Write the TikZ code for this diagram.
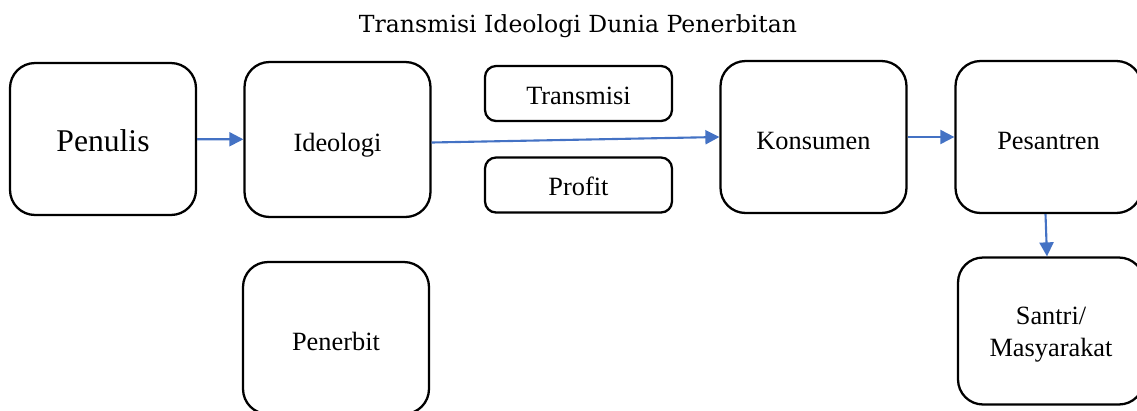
\documentclass[tikz,border=0pt]{standalone}
\usepackage{fontspec}
\setmainfont{Liberation Serif}
\newfontfamily\titlefont{DejaVu Serif}
\usetikzlibrary{arrows.meta}

\definecolor{arrowblue}{RGB}{68,114,196}

\tikzset{
	bigbox/.style={draw, line width=1.3pt, rounded corners=0.5cm, minimum width=3.72cm, minimum height=3.04cm, align=center, text height=0.58cm, text depth=0.1cm, font=\fontsize{15}{18}\selectfont},
	smallbox/.style={draw, line width=1.3pt, rounded corners=0.22cm, minimum width=3.74cm, minimum height=1.1cm, text height=0.52cm, text depth=0.1cm, font=\fontsize{15}{18}\selectfont},
	flow/.style={draw=arrowblue, line width=1.2pt, -{Triangle[length=0.28cm, width=0.28cm]}}
}

\begin{document}
\begin{tikzpicture}[x=0.02cm, y=-0.02cm]

\clip (0,0) rectangle (1137,410);
\useasboundingbox (0,0) rectangle (1137,410);

\node (title) at (578,26) {\titlefont\fontsize{13.4}{16}\selectfont Transmisi Ideologi Dunia Penerbitan};

\node[bigbox, font=\fontsize{18}{22}\selectfont] (penulis) at (103,139) {Penulis};
\node[bigbox, minimum height=3.1cm] (ideologi) at (337.5,139.5) {Ideologi};
\node[bigbox] (penerbit) at (336,338) {Penerbit};

\node[smallbox] (transmisi) at (578.5,93.5) {Transmisi};
\node[smallbox] (profit) at (578.5,185) {Profit};

\node[bigbox] (konsumen) at (813.5,137) {Konsumen};
\node[bigbox] (pesantren) at (1048.5,137) {Pesantren};
\node[bigbox, minimum height=2.94cm, text height=1.1cm] (santri) at (1051,331) {Santri/\\Masyarakat};

\draw[flow] (penulis) -- (ideologi);
\draw[flow] ([yshift=-0.06cm]ideologi.east) -- (konsumen.west);
\draw[flow] (konsumen) -- (pesantren);
\draw[flow] ([xshift=-0.06cm]pesantren.south) -- ([xshift=-0.08cm]santri.north);

\end{tikzpicture}
\end{document}
